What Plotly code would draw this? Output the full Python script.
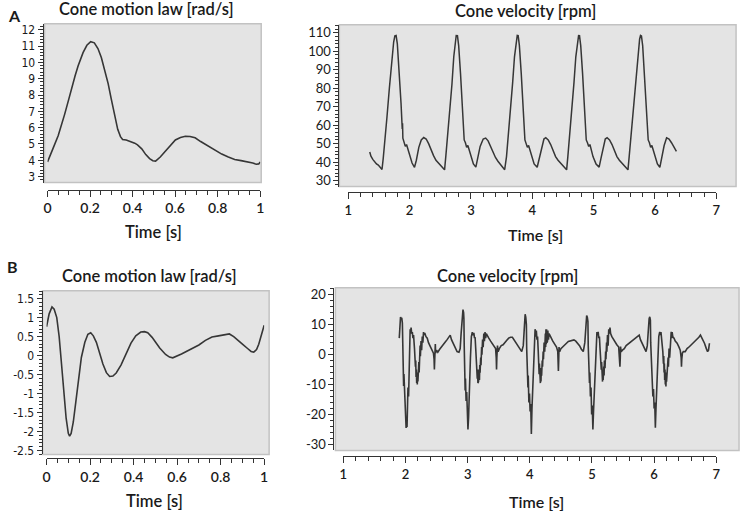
import plotly.graph_objects as go

# ---------------- data ----------------
# Panel A, left: cone motion law [rad/s]
time_a_law = [0, 0.012, 0.025, 0.05, 0.067, 0.08, 0.1, 0.113, 0.13, 0.144, 0.167, 0.185, 0.203, 0.22,
              0.237, 0.253, 0.268, 0.285, 0.299, 0.315, 0.33, 0.343, 0.353, 0.37, 0.392, 0.41, 0.423,
              0.443, 0.462, 0.48, 0.495, 0.508, 0.53, 0.555, 0.58, 0.601, 0.625, 0.648, 0.67, 0.694,
              0.72, 0.757, 0.79, 0.819, 0.85, 0.88, 0.91, 0.943, 0.965, 0.981, 0.993, 1.0]
law_a = [3.9, 4.25, 4.7, 5.5, 6.16, 6.8, 7.75, 8.45, 9.2, 9.8, 10.6, 11.05, 11.27, 11.2,
         10.85, 10.3, 9.6, 8.7, 7.8, 6.8, 5.9, 5.45, 5.28, 5.25, 5.15, 5.05, 4.95,
         4.7, 4.35, 4.1, 3.97, 3.95, 4.2, 4.55, 4.95, 5.25, 5.4, 5.47, 5.46, 5.38,
         5.15, 4.85, 4.6, 4.38, 4.2, 4.05, 3.98, 3.9, 3.83, 3.76, 3.78, 3.9]

# Panel A, right: cone velocity [rpm]
time_a_vel = [1.35, 1.37, 1.40, 1.43, 1.46, 1.49, 1.52, 1.55,
              1.57, 1.60, 1.63, 1.67, 1.71, 1.74, 1.76, 1.78, 1.80, 1.83, 1.86, 1.88, 1.885, 1.89, 1.91, 1.93,
              1.95, 1.97, 2.00, 2.04, 2.08, 2.11, 2.15, 2.19, 2.23, 2.27, 2.31, 2.35, 2.39, 2.43, 2.47, 2.51,
              2.54, 2.57,
              2.59, 2.62, 2.65, 2.69, 2.72, 2.75, 2.76, 2.78, 2.80, 2.83, 2.86, 2.88, 2.885, 2.89, 2.91, 2.93,
              2.95, 2.97, 3.00, 3.04, 3.08, 3.11, 3.15, 3.20, 3.24, 3.28, 3.32, 3.36, 3.40, 3.44, 3.48, 3.52,
              3.55,
              3.58, 3.61, 3.64, 3.68, 3.71, 3.74, 3.755, 3.77, 3.79, 3.82, 3.85, 3.87, 3.875, 3.88, 3.90, 3.92,
              3.94, 3.96, 3.99, 4.03, 4.08, 4.11, 4.15, 4.19, 4.22, 4.26, 4.30, 4.34, 4.38, 4.42, 4.46, 4.50,
              4.53, 4.56,
              4.58, 4.61, 4.64, 4.68, 4.71, 4.74, 4.755, 4.77, 4.79, 4.82, 4.85, 4.87, 4.875, 4.88, 4.90, 4.92,
              4.94, 4.96, 4.99, 5.04, 5.09, 5.12, 5.16, 5.19, 5.22, 5.26, 5.30, 5.34, 5.38, 5.42, 5.46, 5.50,
              5.53, 5.56,
              5.58, 5.61, 5.64, 5.68, 5.72, 5.75, 5.765, 5.78, 5.80, 5.83, 5.86, 5.88, 5.885, 5.89, 5.91, 5.93,
              5.95, 5.97, 6.00, 6.04, 6.08, 6.11, 6.15, 6.19, 6.23, 6.27, 6.30, 6.33, 6.35]
vel_a = [45.5, 43.2, 41.5, 40.2, 39.0, 38.4, 37.3, 36.0,
         42, 52, 64, 80, 96, 105, 108.3, 108.5, 104, 90, 72, 58, 61, 53, 51, 48.5,
         49.5, 47, 43, 39.5, 37.2, 41, 48, 52, 53.3, 52.5, 50, 46.5, 43.5, 41, 39.5, 38.2,
         37, 35.8,
         43, 54, 65, 82, 97, 106, 108.5, 108.4, 103, 88, 70, 58, 60, 52, 50.5, 48,
         49, 46.5, 42.5, 39, 37.3, 41.5, 48.5, 52.5, 53, 51.5, 48.5, 45, 42.5, 40.5, 39, 37.5,
         35.9,
         43, 54, 66, 83, 97, 106, 108.6, 108.5, 103, 88, 70, 58, 61, 52, 50, 48,
         49, 46.5, 42.5, 39, 37.2, 41.5, 48.5, 52.5, 53.2, 52, 49.5, 46, 43, 41, 39.5, 38.2,
         37, 35.8,
         43, 54, 66, 83, 97, 106, 108.5, 108.4, 103, 88, 70, 58, 60, 52, 50.5, 48.5,
         49.5, 47, 43, 39, 37.3, 42, 49, 52.5, 53.2, 52, 49.5, 46, 43, 41, 39.5, 38,
         37, 35.8,
         43, 54, 66, 83, 98, 106.5, 108.6, 108.3, 103, 88, 70, 58, 60, 52, 50.5, 48,
         49, 46.5, 42.5, 39, 37.2, 42, 49, 53.2, 52.5, 50.5, 48.5, 47, 45.8]

# Panel B, left: cone motion law [rad/s]
time_b_law = [0, 0.012, 0.025, 0.035, 0.047, 0.058, 0.07, 0.08, 0.09, 0.1, 0.106, 0.113, 0.123, 0.135,
              0.145, 0.16, 0.176, 0.19, 0.203, 0.215, 0.229, 0.245, 0.259, 0.275, 0.29, 0.305, 0.32,
              0.342, 0.365, 0.388, 0.41, 0.433, 0.45, 0.465, 0.485, 0.50, 0.52, 0.547, 0.565, 0.58,
              0.60, 0.62, 0.64, 0.67, 0.70, 0.73, 0.76, 0.79, 0.815, 0.84, 0.86, 0.88, 0.90, 0.925,
              0.94, 0.952, 0.965, 0.975, 0.985, 0.995, 1.0]
law_b = [0.76, 1.1, 1.28, 1.22, 1.0, 0.5, -0.3, -1.0, -1.65, -2.05, -2.12, -2.05, -1.75, -1.2,
         -0.7, -0.05, 0.35, 0.56, 0.6, 0.52, 0.35, 0.05, -0.22, -0.45, -0.55, -0.54, -0.46,
         -0.25, 0.05, 0.33, 0.52, 0.62, 0.63, 0.6, 0.48, 0.36, 0.2, 0.03, -0.04, -0.06,
         -0.02, 0.04, 0.1, 0.18, 0.28, 0.4, 0.49, 0.52, 0.55, 0.57, 0.5, 0.41, 0.3, 0.18,
         0.11, 0.09, 0.16, 0.3, 0.5, 0.73, 0.8]

# Panel B, right: cone velocity [rpm]
time_b_vel = [1.90, 1.905, 1.91, 1.915, 1.92, 1.93, 1.94, 1.95, 1.955, 1.96, 1.97, 1.975, 1.985, 1.995,
              2.0, 2.01, 2.02, 2.025, 2.035, 2.04, 2.05, 2.06, 2.07, 2.075, 2.085, 2.09, 2.10, 2.11,
              2.12, 2.13, 2.145, 2.155, 2.16, 2.165, 2.17, 2.175, 2.18, 2.185, 2.19, 2.195, 2.20, 2.205,
              2.21, 2.215, 2.22, 2.225, 2.23, 2.235, 2.24, 2.25, 2.26, 2.27, 2.28, 2.29, 2.30, 2.31,
              2.33, 2.35, 2.37, 2.39, 2.41, 2.43, 2.45, 2.46, 2.465, 2.47, 2.48, 2.485, 2.50, 2.52,
              2.55, 2.58, 2.61, 2.64, 2.67, 2.70, 2.72, 2.74, 2.77, 2.80, 2.83, 2.86,
              2.88, 2.895, 2.905, 2.915, 2.925, 2.935, 2.94, 2.945, 2.95, 2.96, 2.965, 2.975, 2.985, 2.995,
              3.0, 3.005, 3.015, 3.025, 3.035, 3.045, 3.06, 3.075, 3.085, 3.10, 3.11, 3.12, 3.13, 3.14,
              3.145, 3.15, 3.155, 3.16, 3.165, 3.17, 3.175, 3.18, 3.19, 3.195, 3.20, 3.21, 3.215, 3.225,
              3.23, 3.24, 3.25, 3.26, 3.27, 3.28, 3.29, 3.30, 3.32, 3.34, 3.37, 3.40, 3.42, 3.45,
              3.46, 3.465, 3.47, 3.48, 3.49, 3.51, 3.54, 3.57, 3.60, 3.63, 3.66, 3.69, 3.72, 3.75,
              3.78, 3.81, 3.84, 3.87,
              3.895, 3.905, 3.915, 3.925, 3.935, 3.945, 3.95, 3.96, 3.97, 3.975, 3.985, 3.995, 4.005, 4.015,
              4.025, 4.035, 4.045, 4.05, 4.06, 4.075, 4.085, 4.095, 4.105, 4.115, 4.125, 4.135, 4.14, 4.145,
              4.15, 4.155, 4.16, 4.165, 4.17, 4.175, 4.18, 4.185, 4.19, 4.20, 4.205, 4.215, 4.22, 4.23,
              4.24, 4.25, 4.255, 4.26, 4.265, 4.27, 4.275, 4.28, 4.285, 4.29, 4.30, 4.31, 4.33, 4.35,
              4.37, 4.40, 4.43, 4.45, 4.455, 4.46, 4.465, 4.47, 4.48, 4.50, 4.53, 4.56, 4.59, 4.62,
              4.65, 4.68, 4.71, 4.74, 4.77, 4.80, 4.83, 4.86,
              4.885, 4.895, 4.905, 4.915, 4.925, 4.935, 4.94, 4.95, 4.96, 4.965, 4.975, 4.985, 4.995, 5.005,
              5.015, 5.025, 5.035, 5.045, 5.055, 5.07, 5.08, 5.09, 5.10, 5.11, 5.12, 5.13, 5.14, 5.145,
              5.15, 5.155, 5.16, 5.165, 5.17, 5.175, 5.18, 5.19, 5.195, 5.20, 5.21, 5.22, 5.225, 5.235,
              5.24, 5.25, 5.26, 5.27, 5.28, 5.29, 5.30, 5.32, 5.34, 5.36, 5.38, 5.40, 5.43, 5.445,
              5.45, 5.455, 5.46, 5.47, 5.49, 5.52, 5.55, 5.58, 5.61, 5.64, 5.67, 5.70, 5.72, 5.74,
              5.76, 5.78, 5.81, 5.84, 5.87,
              5.89, 5.90, 5.91, 5.92, 5.93, 5.94, 5.945, 5.955, 5.965, 5.97, 5.98, 5.99, 6.0, 6.01,
              6.02, 6.03, 6.04, 6.05, 6.06, 6.075, 6.09, 6.10, 6.11, 6.12, 6.13, 6.14, 6.15, 6.155,
              6.16, 6.165, 6.17, 6.175, 6.18, 6.185, 6.19, 6.195, 6.20, 6.21, 6.215, 6.225, 6.23, 6.24,
              6.25, 6.26, 6.265, 6.275, 6.285, 6.29, 6.30, 6.32, 6.34, 6.37, 6.40, 6.42, 6.435, 6.44,
              6.445, 6.455, 6.47, 6.50, 6.53, 6.57, 6.61, 6.65, 6.69, 6.72, 6.745, 6.77, 6.79, 6.81,
              6.84, 6.86, 6.875, 6.89]
vel_b = [5.5, 8.5, 7.0, 11.5, 12.5, 12.0, 12.3, 10.5, 4.0, -6.0, -10.5, -6.5, -14.0, -20.5,
         -17.5, -24.5, -22.0, -24.2, -15.0, -11.0, -14.0, -3.0, 5.0, 8.5, 7.5, 9.0, 7.0, 7.5,
         5.5, 6.5, 2.0, -1.0, -4.0, -2.0, -7.5, -5.0, -9.5, -6.0, -10.0, -6.5, -9.0, -4.5,
         -8.0, -2.5, -6.0, 0.5, -3.0, 3.0, -0.5, 4.5, 1.5, 6.0, 4.0, 7.5, 6.5, 7.2,
         6.0, 5.5, 4.0, 3.0, 2.0, 1.2, 0.5, -1.5, -5.0, -2.0, 3.5, 0.5, 1.5, 0.8,
         1.8, 2.5, 3.2, 4.2, 5.0, 6.0, 6.5, 5.0, 3.8, 2.5, 1.0, 0.8,
         2.0, 7.0, 9.5, 13.0, 15.0, 14.0, 12.0, 3.0, -6.0, -12.0, -8.0, -15.5, -12.5, -20.0,
         -17.0, -25.0, -21.0, -12.0, -9.5, -1.0, 6.0, 7.5, 6.5, 7.3, 5.5, 5.8, 2.0, -2.0,
         -5.5, -3.0, -8.0, -5.0, -9.5, -6.0, -9.0, -5.0, -8.5, -3.5, -6.0, -1.0, -3.5, 2.5,
         0.0, 5.0, 2.5, 7.0, 4.5, 7.5, 5.5, 7.0, 6.0, 5.5, 4.5, 3.5, 3.0, 2.0,
         -1.0, -5.0, -1.0, 3.0, 1.0, 2.0, 3.0, 3.3, 4.2, 4.8, 5.5, 5.8, 5.8, 4.8,
         4.0, 3.0, 1.8, 1.0,
         3.0, 8.0, 12.0, 13.5, 12.5, 10.0, 2.0, -5.0, -11.0, -7.0, -16.0, -13.0, -19.0, -16.5,
         -26.5, -18.0, -13.0, -9.0, -2.0, 5.0, 8.5, 6.0, 8.0, 5.0, 6.0, 1.5, -3.0, -1.0,
         -6.5, -3.0, -8.5, -5.0, -9.5, -6.0, -9.0, -4.5, -7.0, -2.0, -4.0, 1.0, -1.5, 4.0,
         1.0, 7.0, 2.5, 8.5, 3.5, 8.5, 4.0, 8.0, 4.5, 8.0, 5.0, 7.0, 6.0, 5.0,
         4.5, 3.5, 2.5, 1.0, -3.0, -5.5, -2.0, 2.5, 1.0, 2.0, 2.5, 3.0, 3.8, 4.4,
         4.6, 4.8, 4.9, 4.5, 3.8, 3.0, 1.8, 1.0,
         4.0, 8.0, 11.0, 13.0, 12.5, 11.0, 3.0, -4.0, -9.5, -6.0, -14.0, -11.0, -20.0, -17.0,
         -25.0, -19.0, -13.0, -7.0, -1.0, 5.5, 7.5, 6.5, 7.6, 5.5, 6.0, 2.0, -2.0, 0.0,
         -5.0, -2.5, -7.5, -4.0, -9.0, -5.5, -8.5, -4.0, -7.0, -2.0, -4.5, 1.0, -1.5, 4.0,
         1.0, 6.5, 3.0, 8.5, 7.0, 9.0, 7.0, 6.0, 5.2, 4.9, 4.0, 3.3, 2.5, -1.0,
         -4.0, -1.5, 2.7, 1.0, 1.5, 2.0, 3.0, 3.5, 4.0, 4.5, 5.0, 5.5, 5.8, 6.3,
         6.5, 5.0, 3.5, 2.0, 1.0,
         3.0, 7.0, 9.5, 12.0, 12.6, 11.5, 4.0, -3.5, -9.5, -6.5, -14.0, -11.5, -18.0, -16.0,
         -24.4, -18.0, -11.7, -6.0, 1.6, 6.0, 7.6, 6.5, 7.5, 5.5, 5.0, 1.0, -3.0, -0.5,
         -6.0, -3.0, -8.5, -5.0, -10.0, -6.0, -10.6, -6.5, -9.0, -4.0, -7.0, -1.0, -4.0, 2.0,
         -1.0, 5.0, 1.5, 7.6, 5.5, 7.5, 6.0, 5.5, 4.5, 3.8, 2.5, 1.5, -1.0, -4.0,
         -1.5, 0.5, 1.0, 1.0, 2.0, 2.7, 3.5, 4.4, 5.0, 5.8, 6.5, 5.5, 4.5, 3.8,
         2.0, 1.0, 1.5, 3.8]

# tick labels
law_a_ticks = [3, 4, 5, 6, 7, 8, 9, 10, 11, 12]
law_a_ticktext = ["3", "4", "5", "6", "7", "8", "9", "10", "11", "12"]
vel_a_ticks = [30, 40, 50, 60, 70, 80, 90, 100, 110]
vel_a_ticktext = ["30", "40", "50", "60", "70", "80", "90", "100", "110"]
law_b_ticks = [-2.5, -2, -1.5, -1, -0.5, 0, 0.5, 1, 1.5]
law_b_ticktext = ["-2.5", "-2", "-1.5", "-1", "-0.5", "0", "0.5", "1", "1.5"]
vel_b_ticks = [-30, -20, -10, 0, 10, 20]
vel_b_ticktext = ["-30", "-20", "-10", "0", "10", "20"]
law_time_ticks = [0, 0.2, 0.4, 0.6, 0.8, 1]
law_time_ticktext = ["0", "0.2", "0.4", "0.6", "0.8", "1"]
vel_time_ticks = [1, 2, 3, 4, 5, 6, 7]
vel_time_ticktext = ["1", "2", "3", "4", "5", "6", "7"]

# ---------------- layout helpers ----------------
W, H = 746, 513


def fx(p):
    return p / W


def fy(p):
    return 1 - p / H


LINE = "#363636"
AX = "#333333"
BOX = "#e4e4e4"
TXT = "#1a1a1a"
FONT = "Lato, 'Open Sans', sans-serif"
NARROW = "'DejaVu Sans Condensed', 'Liberation Sans Narrow', 'Roboto', sans-serif"

panels = [
    dict(xd=(44, 259), xr=[0, 1], xl=190, yd=(23, 183), yr=[2.635, 12.365], yl=39,
         xt=(law_time_ticks, law_time_ticktext), xm=0.05, yt=(law_a_ticks, law_a_ticktext), ym=0.2,
         yfont=dict(family=NARROW, size=12, color=TXT), xfs=14, box=(41, 260, 23, 183), lw=1.6),
    dict(xd=(348, 720), xr=[1, 7], xl=193, yd=(24, 187), yr=[26.78, 114.3], yl=338,
         xt=(vel_time_ticks, vel_time_ticktext), xm=0.2, yt=(vel_a_ticks, vel_a_ticktext), ym=2,
         yfont=dict(family=FONT, size=13, color=TXT), xfs=13, box=(339, 740, 24, 187), lw=1.5),
    dict(xd=(43, 263), xr=[0, 1], xl=461, yd=(292, 457), yr=[-2.605, 1.709], yl=38,
         xt=(law_time_ticks, law_time_ticktext), xm=0.05, yt=(law_b_ticks, law_b_ticktext), ym=0.1,
         yfont=dict(family=NARROW, size=12, color=TXT), xfs=14, box=(39, 268, 292, 457), lw=1.6),
    dict(xd=(343, 720), xr=[1, 7], xl=459, yd=(289, 453), yr=[-31.99, 22.32], yl=333,
         xt=(vel_time_ticks, vel_time_ticktext), xm=0.2, yt=(vel_b_ticks, vel_b_ticktext), ym=2,
         yfont=dict(family=FONT, size=13, color=TXT), xfs=13, box=(335, 743, 289, 453), lw=1.6),
]

series = [(time_a_law, law_a), (time_a_vel, vel_a), (time_b_law, law_b), (time_b_vel, vel_b)]

fig = go.Figure()
layout = dict(width=W, height=H, margin=dict(l=0, r=0, t=0, b=0), showlegend=False,
              paper_bgcolor="white", plot_bgcolor="rgba(0,0,0,0)",
              font=dict(family=FONT, color=TXT), shapes=[], annotations=[])

for i, (p, (t, v)) in enumerate(zip(panels, series)):
    n = "" if i == 0 else str(i + 1)
    fig.add_trace(go.Scatter(x=t, y=v, mode="lines", xaxis="x" + n, yaxis="y" + n,
                             line=dict(color=LINE, width=p["lw"]), hoverinfo="skip"))
    layout["xaxis" + n] = dict(
        domain=[fx(p["xd"][0]), fx(p["xd"][1])], range=p["xr"], anchor="free", position=fy(p["xl"]),
        showline=True, linecolor=AX, linewidth=1, showgrid=False, zeroline=False,
        ticks="outside", ticklen=6, tickcolor=AX, tickwidth=1,
        tickvals=p["xt"][0], ticktext=p["xt"][1],
        tickfont=dict(family=FONT, size=p["xfs"], color=TXT, weight=600),
        minor=dict(dtick=p["xm"], tick0=p["xr"][0], ticks="outside", ticklen=4, tickcolor=AX),
    )
    layout["yaxis" + n] = dict(
        domain=[fy(p["yd"][1]), fy(p["yd"][0])], range=p["yr"], anchor="free", position=fx(p["yl"]),
        showline=True, linecolor=AX, linewidth=1, showgrid=False, zeroline=False,
        ticks="outside", ticklen=5, tickcolor=AX, tickwidth=1,
        tickvals=p["yt"][0], ticktext=p["yt"][1], tickfont=p["yfont"],
        minor=dict(dtick=p["ym"], tick0=0, ticks="outside", ticklen=3, tickcolor=AX),
    )
    b = p["box"]
    layout["shapes"].append(dict(type="rect", xref="paper", yref="paper",
                                 x0=fx(b[0]), x1=fx(b[1]), y0=fy(b[3]), y1=fy(b[2]),
                                 fillcolor=BOX, line=dict(color="#c2c2c2", width=1.5), layer="below"))

texts = [
    ("A", 2, 15, 16, 700, "left"),
    ("B", 1, 268, 16, 700, "left"),
    ("Cone motion law [rad/s]", 144, 8, 16.5, 600, "center"),
    ("Cone velocity [rpm]", 527, 10, 16.5, 600, "center"),
    ("Cone motion law [rad/s]", 147, 277, 16.5, 600, "center"),
    ("Cone velocity [rpm]", 509, 277, 16.5, 600, "center"),
    ("Time [s]", 151, 233, 16.5, 600, "center"),
    ("Time [s]", 537, 235, 16, 600, "center"),
    ("Time [s]", 152, 504, 16.5, 600, "center"),
    ("Time [s]", 538, 504, 16, 600, "center"),
]
for s, x, y, size, wt, anc in texts:
    layout["annotations"].append(dict(text=s, xref="paper", yref="paper", x=fx(x), y=fy(y),
                                      xanchor=anc, yanchor="middle", showarrow=False,
                                      font=dict(family=FONT, size=size, color=TXT, weight=wt)))

fig.update_layout(**layout)
fig.write_html("out.html", config={"displayModeBar": False, "staticPlot": True},
               post_script="document.body.style.margin='0';")
